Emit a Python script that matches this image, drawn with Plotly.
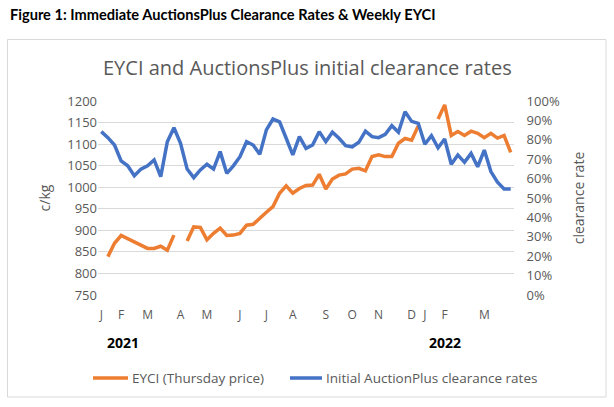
import plotly.graph_objects as go

weeks = list(range(63))

clearance_rate = [84.2, 81.1, 77.3, 69.1, 66.6, 61.5, 64.9, 66.6, 69.6, 61.0,
                  79.0, 86.2, 78.2, 64.9, 60.5, 64.5, 67.4, 64.9, 73.9, 62.7,
                  66.6, 71.3, 79.0, 77.3, 72.5, 85.1, 90.7, 89.3, 80.8, 72.2,
                  81.6, 75.6, 77.3, 84.2, 79.0, 83.9, 80.8, 77.0, 76.4, 78.7,
                  84.5, 81.6, 81.1, 82.8, 87.3, 83.9, 94.5, 89.5, 88.5, 77.7,
                  82.1, 75.9, 80.4, 67.4, 72.2, 68.4, 73.0, 66.1, 74.7, 63.6,
                  58.1, 54.6, 54.6]

eyci = [None, 839, 870, 888, 880, 874, 866, 858, 858, 863,
        854, 889, None, 875, 908, 907, 878, 893, 905, 888,
        889, 893, 912, 914, 929, 942, 955, 986, 1003, 986,
        997, 1004, 1005, 1030, 996, 1019, 1028, 1031, 1042, 1044,
        1038, 1071, 1075, 1071, 1071, 1102, 1113, 1109, 1142, None,
        None, 1158, 1191, 1120, 1129, 1120, 1130, 1125, 1115, 1125,
        1114, 1120, 1081]

tick_pos = [0, 3, 7, 12, 16, 21, 25, 29, 34, 38, 42, 47, 49, 52, 58]
tick_text = ["J", "F", "M", "A", "M", "J", "J", "A", "S", "O", "N", "D", "J", "F", "M"]

left_ticks = list(range(750, 1201, 50))
right_ticks = [i / 10 for i in range(0, 11)]

FONT = "Open Sans"
TFONT = "Lato"
GREY = "#595959"

fig = go.Figure()
fig.add_trace(go.Scatter(x=weeks, y=[v / 100 for v in clearance_rate], yaxis="y2",
                         mode="lines", line=dict(color="#4472C4", width=3.5),
                         name="Initial AuctionPlus clearance rates", showlegend=False))
fig.add_trace(go.Scatter(x=weeks, y=eyci, mode="lines",
                         line=dict(color="#ED7D31", width=3.5),
                         name="EYCI (Thursday price)", connectgaps=False, showlegend=False))

fig.update_layout(
    width=614, height=407,
    margin=dict(l=98, r=100, t=101, b=112),
    paper_bgcolor="white", plot_bgcolor="white",
    font=dict(family=FONT, color=GREY, size=13),
    xaxis=dict(range=[-0.5, 62.5], tickmode="array", tickvals=tick_pos, ticktext=tick_text,
               showgrid=False, zeroline=False, showline=False, ticks="outside", ticklen=9,
               tickcolor="rgba(0,0,0,0)",
               tickfont=dict(size=12, color=GREY)),
    yaxis=dict(range=[750, 1200], tickvals=left_ticks, showgrid=True, gridcolor="#D9D9D9",
               gridwidth=1, zeroline=False, showline=False, ticks="",
               tickfont=dict(size=13, color=GREY),
               title=dict(text="c/kg", font=dict(size=14, color=GREY), standoff=13)),
    yaxis2=dict(range=[0, 1], overlaying="y", side="right", tickvals=right_ticks,
                tickformat=".0%", showgrid=False, zeroline=False, showline=False,
                ticks="outside", ticklen=9, tickcolor="rgba(0,0,0,0)",
                tickfont=dict(size=13, color=GREY),
                title=dict(text="clearance rate", font=dict(size=14, color=GREY), standoff=15)),
    showlegend=False,
)

def px_x(x):
    return (x - 98) / 416

def px_y(y):
    return (295 - y) / 194

# chart border
fig.add_shape(type="rect", xref="paper", yref="paper",
              x0=px_x(7.5), x1=px_x(606), y0=px_y(397), y1=px_y(39.5),
              line=dict(color="#D9D9D9", width=1), fillcolor="rgba(0,0,0,0)", layer="below")

# figure title
fig.add_annotation(text="<b>Figure 1: Immediate AuctionsPlus Clearance Rates & Weekly EYCI</b>",
                   xref="paper", yref="paper", x=px_x(8), y=px_y(14.5), xanchor="left", yanchor="middle",
                   showarrow=False, font=dict(family=TFONT, size=14.6, color="#000000"))
# chart title
fig.add_annotation(text="EYCI and AuctionsPlus initial clearance rates",
                   xref="paper", yref="paper", x=px_x(307), y=px_y(68), xanchor="center", yanchor="middle",
                   showarrow=False, font=dict(family=FONT, size=20, color=GREY))
# year labels
fig.add_annotation(text="<b>2021</b>", xref="paper", yref="paper", x=px_x(123), y=px_y(342),
                   xanchor="center", yanchor="middle", showarrow=False,
                   font=dict(family=FONT, size=14, color="#000000"))
fig.add_annotation(text="<b>2022</b>", xref="paper", yref="paper", x=px_x(445), y=px_y(342),
                   xanchor="center", yanchor="middle", showarrow=False,
                   font=dict(family=FONT, size=14, color="#000000"))
# legend
fig.add_shape(type="line", xref="paper", yref="paper", x0=px_x(93), x1=px_x(128),
              y0=px_y(378), y1=px_y(378), line=dict(color="#ED7D31", width=3.5))
fig.add_annotation(text="EYCI (Thursday price)", xref="paper", yref="paper", x=px_x(130), y=px_y(378),
                   xanchor="left", yanchor="middle", showarrow=False, font=dict(size=13.5, color=GREY))
fig.add_shape(type="line", xref="paper", yref="paper", x0=px_x(290), x1=px_x(322),
              y0=px_y(378), y1=px_y(378), line=dict(color="#4472C4", width=3.5))
fig.add_annotation(text="Initial AuctionPlus clearance rates", xref="paper", yref="paper",
                   x=px_x(324), y=px_y(378), xanchor="left", yanchor="middle", showarrow=False,
                   font=dict(size=13.5, color=GREY))

# remove the browser's default 8px body margin so the figure fills the window
fig.write_html("out.html", config={"displayModeBar": False},
               post_script="document.body.style.margin='0';")
